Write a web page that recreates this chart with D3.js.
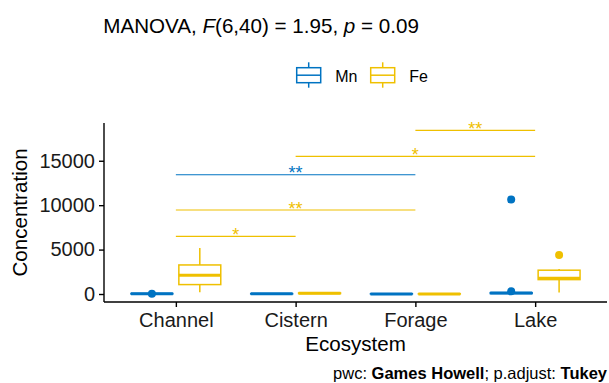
<!DOCTYPE html>
<html>
<head>
<meta charset="utf-8">
<script src="https://cdn.jsdelivr.net/npm/d3@7"></script>
<style>
  body { margin: 0; background: #fff; }
  svg { display: block; font-family: "Liberation Sans", Arial, sans-serif; }
</style>
</head>
<body>
<svg id="chart" width="609" height="383"></svg>
<script>
// data
const categories = ["Channel", "Cistern", "Forage", "Lake"];
const seriesNames = ["Mn", "Fe"];
const yTicks = [0, 5000, 10000, 15000];

// box stats per category (Channel, Cistern, Forage, Lake)
const mnLow = [0, 0, 0, 20];
const mnQ1 = [10, 10, 5, 50];
const mnMedian = [30, 20, 10, 100];
const mnQ3 = [60, 40, 30, 150];
const mnHigh = [100, 80, 50, 250];
const mnOutliers = [[40], [], [], [300, 10650]];

const feLow = [190, 20, 0, 160];
const feQ1 = [1060, 50, 5, 1620];
const feMedian = [2110, 80, 10, 1770];
const feQ3 = [3270, 120, 20, 2680];
const feHigh = [5190, 180, 40, 2820];
const feOutliers = [[], [], [], [4400]];

// pairwise comparisons
const bracketSeries = ["Mn", "Fe", "Fe", "Fe", "Fe"];
const bracketFrom = ["Channel", "Channel", "Channel", "Cistern", "Forage"];
const bracketTo = ["Forage", "Cistern", "Forage", "Lake", "Lake"];
const bracketY = [13420, 6490, 9450, 15490, 18420];
const bracketLabel = ["**", "*", "**", "*", "**"];

const colors = { Mn: "#0073C2", Fe: "#EFC000" };

const margin = { top: 123, right: 2, bottom: 81, left: 104 };
const W = 609, H = 383;
const width = W - margin.left - margin.right;
const height = H - margin.top - margin.bottom;

const svg = d3.select("#chart");
const g = svg.append("g")
  .attr("transform", "translate(" + margin.left + "," + margin.top + ")");

const x = d3.scalePoint()
  .domain(categories)
  .range([0, width])
  .padding(0.6);
const step = x.step();

const xSub = d3.scaleBand()
  .domain(seriesNames)
  .range([-0.4 * step, 0.4 * step]);
const boxW = 0.35 * step;

const y = d3.scaleLinear()
  .domain([-900, 19250])
  .range([height, 0]);

// build boxes from the arrays
function boxes(name, lo, q1, med, q3, hi, out) {
  return categories.map((c, i) => ({
    series: name, cat: c, lo: lo[i], q1: q1[i], med: med[i], q3: q3[i], hi: hi[i], out: out[i]
  }));
}
const boxData = boxes("Mn", mnLow, mnQ1, mnMedian, mnQ3, mnHigh, mnOutliers)
  .concat(boxes("Fe", feLow, feQ1, feMedian, feQ3, feHigh, feOutliers));

const cx = d => x(d.cat) + xSub(d.series) + xSub.bandwidth() / 2;

const bg = g.selectAll("g.box")
  .data(boxData)
  .enter().append("g")
  .attr("class", "box")
  .attr("stroke", d => colors[d.series])
  .attr("fill", "#fff");

bg.append("line")
  .attr("x1", cx).attr("x2", cx)
  .attr("y1", d => y(d.hi)).attr("y2", d => y(d.q3))
  .attr("stroke-width", 1.5);
bg.append("line")
  .attr("x1", cx).attr("x2", cx)
  .attr("y1", d => y(d.q1)).attr("y2", d => y(d.lo))
  .attr("stroke-width", 1.5);
bg.append("rect")
  .attr("x", d => cx(d) - boxW / 2)
  .attr("width", boxW)
  .attr("y", d => y(d.q3))
  .attr("height", d => y(d.q1) - y(d.q3))
  .attr("stroke-width", 1.5);
bg.append("line")
  .attr("x1", d => cx(d) - boxW / 2).attr("x2", d => cx(d) + boxW / 2)
  .attr("y1", d => y(d.med)).attr("y2", d => y(d.med))
  .attr("stroke-width", 3);

bg.selectAll("circle")
  .data(d => d.out.map(v => ({ v: v, d: d })))
  .enter().append("circle")
  .attr("cx", o => cx(o.d))
  .attr("cy", o => y(o.v))
  .attr("r", 4)
  .attr("stroke", "none")
  .attr("fill", o => colors[o.d.series]);

// significance brackets
const br = bracketLabel.map((l, i) => ({
  series: bracketSeries[i], from: bracketFrom[i], to: bracketTo[i], y: bracketY[i], label: l
}));
g.selectAll("line.bracket")
  .data(br)
  .enter().append("line")
  .attr("class", "bracket")
  .attr("x1", d => x(d.from)).attr("x2", d => x(d.to))
  .attr("y1", d => y(d.y)).attr("y2", d => y(d.y))
  .attr("stroke", d => colors[d.series])
  .attr("stroke-width", 1.1);
g.selectAll("text.sig")
  .data(br)
  .enter().append("text")
  .attr("class", "sig")
  .attr("x", d => (x(d.from) + x(d.to)) / 2)
  .attr("y", d => y(d.y) + 4.5)
  .attr("text-anchor", "middle")
  .attr("fill", d => colors[d.series])
  .style("font-size", "18px")
  .text(d => d.label);

// axes
const yAxis = g.append("g")
  .call(d3.axisLeft(y).tickValues(yTicks).tickSize(5).tickPadding(4).tickFormat(d3.format("d")));
const xAxis = g.append("g")
  .attr("transform", "translate(0," + height + ")")
  .call(d3.axisBottom(x).tickSize(5).tickPadding(6));

[yAxis, xAxis].forEach(a => {
  a.select(".domain").attr("stroke", "#000").attr("stroke-width", 1.4);
  a.selectAll(".tick line").attr("stroke", "#000").attr("stroke-width", 1.4);
  a.selectAll(".tick text").attr("fill", "#1a1a1a").style("font-size", "20px")
    .style("font-family", "Liberation Sans, Arial, sans-serif");
});
yAxis.select(".domain").attr("d", "M0," + height + "V0");
xAxis.select(".domain").attr("d", "M0,0H" + width);
xAxis.selectAll(".tick text").attr("dy", null).attr("y", 24.7);

// axis titles
svg.append("text")
  .attr("transform", "translate(26.5," + (margin.top + height / 2) + ")rotate(-90)")
  .attr("text-anchor", "middle")
  .style("font-size", "20.6px")
  .text("Concentration");
svg.append("text")
  .attr("x", margin.left + width / 2)
  .attr("y", 350.7)
  .attr("text-anchor", "middle")
  .style("font-size", "20.6px")
  .text("Ecosystem");

// title
const title = svg.append("text")
  .attr("x", 103.3)
  .attr("y", 32.7)
  .style("font-size", "20.6px");
title.append("tspan").text("MANOVA, ");
title.append("tspan").style("font-style", "italic").text("F");
title.append("tspan").text("(6,40) = 1.95, ");
title.append("tspan").style("font-style", "italic").text("p");
title.append("tspan").text(" = 0.09");

// legend
const legendX = [296.7, 370.7];
const leg = svg.selectAll("g.legend")
  .data(seriesNames)
  .enter().append("g")
  .attr("class", "legend")
  .attr("transform", (d, i) => "translate(" + legendX[i] + ",0)");
leg.append("line")
  .attr("x1", 12).attr("x2", 12).attr("y1", 62.3).attr("y2", 87.7)
  .attr("stroke", d => colors[d]).attr("stroke-width", 1.5);
leg.append("rect")
  .attr("x", 0).attr("y", 67.7).attr("width", 24).attr("height", 15)
  .attr("fill", "#fff").attr("stroke", d => colors[d]).attr("stroke-width", 1.5);
leg.append("line")
  .attr("x1", 0).attr("x2", 24).attr("y1", 75.2).attr("y2", 75.2)
  .attr("stroke", d => colors[d]).attr("stroke-width", 1.5);
leg.append("text")
  .attr("x", 38.5)
  .attr("y", 81.7)
  .style("font-size", "16px")
  .text(d => d);

// caption
const cap = svg.append("text")
  .attr("x", 607)
  .attr("y", 379)
  .attr("text-anchor", "end")
  .style("font-size", "16.5px");
cap.append("tspan").text("pwc: ");
cap.append("tspan").style("font-weight", "bold").text("Games Howell");
cap.append("tspan").text("; p.adjust: ");
cap.append("tspan").style("font-weight", "bold").text("Tukey");
</script>
</body>
</html>
